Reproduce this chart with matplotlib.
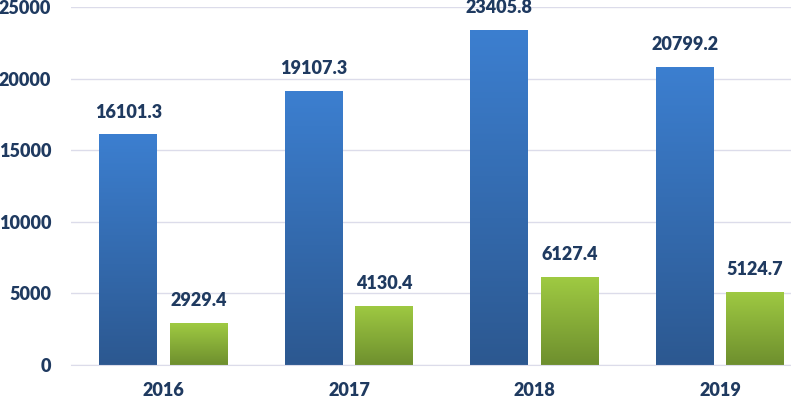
import numpy as np
import matplotlib.pyplot as plt
from matplotlib.colors import LinearSegmentedColormap

years = ["2016", "2017", "2018", "2019"]
blue_vals = [16101.3, 19107.3, 23405.8, 20799.2]
green_vals = [2929.4, 4130.4, 6127.4, 5124.7]

text_color = "#1f3a60"
plt.rcParams['font.family'] = ['Lato', 'DejaVu Sans']

fig = plt.figure(figsize=(7.91, 3.99), dpi=100)
ax = fig.add_axes([0.0894, 0.0852, 1 - 0.0894, 0.9825 - 0.0852])

x = np.arange(len(years))
width = 0.31
offset = 0.19

blue_cmap = LinearSegmentedColormap.from_list("b", ["#2c5890", "#3c7fd0"])
green_cmap = LinearSegmentedColormap.from_list("g", ["#6e8f2e", "#9fca42"])
grad = np.linspace(0, 1, 256).reshape(-1, 1)


def gradient_bars(xs, vals, cmap):
    bars = ax.bar(xs, vals, width=width, color="none", edgecolor="none", zorder=2)
    for b in bars:
        x0, y0 = b.get_x(), b.get_y()
        w, h = b.get_width(), b.get_height()
        im = ax.imshow(grad, extent=[x0, x0 + w, y0, y0 + h], origin="lower",
                       cmap=cmap, aspect="auto", zorder=2)
        im.set_clip_path(b)
    for xi, v in zip(xs, vals):
        ax.annotate(f"{v:.1f}", (xi, v), xytext=(0, 10), textcoords="offset points",
                    ha="center", va="bottom", fontsize=13, fontweight="heavy",
                    color=text_color)


gradient_bars(x - offset, blue_vals, blue_cmap)
gradient_bars(x + offset, green_vals, green_cmap)

ax.set_xlim(-0.5, 3.383)
ax.set_ylim(0, 25000)
ax.set_yticks(range(0, 25001, 5000))
ax.set_xticks(x)
ax.set_xticklabels(years)

ax.grid(axis="y", color="#dcdcea", linewidth=1, zorder=0)
ax.set_axisbelow(True)
for s in ["top", "right", "left"]:
    ax.spines[s].set_visible(False)
ax.spines["bottom"].set_color("#dcdcea")
ax.tick_params(axis="y", length=0, pad=14, labelsize=13, labelcolor=text_color)
ax.tick_params(axis="x", length=0, pad=12.5, labelsize=13, labelcolor=text_color)
for lbl in ax.get_xticklabels() + ax.get_yticklabels():
    lbl.set_fontweight("heavy")

fig.savefig("out.png", dpi=100)
